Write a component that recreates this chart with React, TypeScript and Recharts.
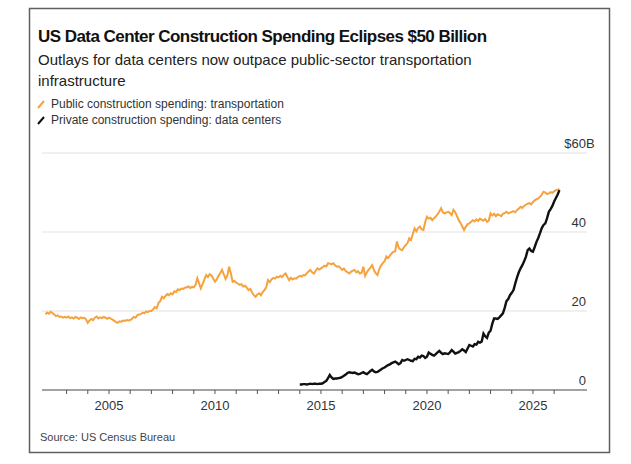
import React from 'react';
import { LineChart, Line, XAxis, YAxis, CartesianGrid, Legend } from 'recharts';

// Monthly construction spending, $B (seasonally adjusted annual rate)
const transportStartYear = 2002;
const dataCenterStartYear = 2014;

const transportation: number[] = [
  19.2, 19.6, 19.3, 19.8, 19.5, 19.1, 18.7, 18.9, 18.5, 18.6, 18.3, 18.5, // 2002
  18.3, 18.6, 18.2, 18.4, 18.1, 18.5, 18.3, 18.0, 18.4, 18.2, 18.3, 17.9, // 2003
  17.0, 17.6, 18.0, 17.7, 18.3, 18.6, 18.1, 18.4, 18.2, 18.5, 18.3, 18.0, // 2004
  18.3, 18.1, 17.8, 17.5, 17.2, 17.0, 17.4, 17.3, 17.6, 17.5, 17.7, 17.6, // 2005
  17.7, 18.0, 18.5, 18.3, 18.9, 19.1, 19.2, 19.6, 19.4, 19.9, 19.7, 20.0, // 2006
  20.0, 20.4, 21.0, 20.7, 22.0, 22.5, 23.6, 23.2, 23.8, 24.3, 24.0, 24.5, // 2007
  24.2, 25.0, 24.8, 25.5, 25.3, 25.7, 25.6, 25.9, 26.0, 26.2, 25.8, 26.1, // 2008
  26.0, 26.6, 28.3, 27.0, 25.7, 26.8, 28.0, 29.1, 28.6, 29.3, 29.0, 28.2, // 2009
  27.4, 28.0, 28.9, 29.6, 30.4, 29.3, 28.1, 29.0, 31.2, 29.5, 27.4, 27.6, // 2010
  27.2, 26.9, 26.6, 26.8, 26.2, 26.4, 25.9, 25.3, 25.6, 24.7, 24.0, 23.6, // 2011
  24.2, 24.5, 24.0, 24.8, 25.3, 26.0, 27.8, 27.3, 28.0, 28.4, 28.2, 28.7, // 2012
  28.5, 28.9, 28.6, 29.2, 29.5, 28.6, 27.8, 28.4, 28.0, 28.3, 28.2, 28.6, // 2013
  28.9, 28.7, 29.1, 29.0, 29.6, 30.0, 30.4, 29.8, 29.5, 30.2, 30.8, 30.5, // 2014
  30.8, 31.1, 31.5, 31.3, 32.1, 32.0, 31.8, 32.1, 31.6, 31.2, 31.3, 30.9, // 2015
  30.4, 30.7, 30.1, 29.8, 29.5, 29.9, 30.2, 30.4, 29.8, 30.1, 29.5, 29.7, // 2016
  31.2, 28.9, 29.8, 30.5, 31.0, 31.6, 30.3, 29.6, 29.1, 30.6, 31.5, 32.1, // 2017
  32.6, 33.8, 33.4, 34.0, 34.6, 35.0, 35.1, 37.6, 36.0, 35.6, 35.4, 36.2, // 2018
  36.7, 37.2, 38.4, 38.0, 39.5, 40.9, 40.2, 41.0, 41.4, 40.7, 40.5, 42.5, // 2019
  43.9, 43.4, 43.6, 43.0, 43.5, 43.9, 44.5, 45.2, 46.0, 45.0, 44.7, 44.9, // 2020
  45.1, 44.8, 44.3, 45.6, 45.0, 44.0, 43.0, 42.3, 41.4, 40.5, 41.3, 42.0, // 2021
  42.2, 42.6, 43.0, 42.7, 43.2, 42.8, 43.4, 43.1, 42.9, 43.3, 42.6, 42.9, // 2022
  44.7, 44.2, 44.6, 44.0, 44.5, 44.3, 44.0, 44.6, 44.8, 45.1, 44.7, 44.9, // 2023
  45.1, 45.3, 45.0, 45.6, 45.9, 46.4, 46.1, 46.6, 46.9, 47.2, 47.3, 47.0, // 2024
  47.6, 48.0, 48.3, 48.5, 48.9, 49.5, 50.2, 50.0, 49.6, 49.8, 50.1, 49.9, // 2025
  50.3, 50.6, 50.7, 50.9, // 2026
];

const dataCenters: number[] = [
  1.4, 1.4, 1.5, 1.5, 1.4, 1.5, 1.6, 1.5, 1.6, 1.6, 1.5, 1.6, // 2014
  1.6, 1.7, 2.0, 2.3, 3.0, 3.8, 3.2, 2.8, 2.9, 2.9, 3.0, 3.1, // 2015
  3.3, 3.6, 3.9, 4.3, 4.5, 4.4, 4.3, 4.4, 4.2, 4.0, 4.1, 4.3, // 2016
  4.5, 4.2, 4.0, 4.4, 4.8, 5.1, 4.7, 4.5, 4.6, 4.9, 5.2, 5.5, // 2017
  5.7, 6.0, 6.3, 6.5, 6.8, 7.0, 7.2, 6.9, 6.5, 6.8, 7.6, 7.4, // 2018
  7.6, 7.8, 7.6, 7.4, 7.3, 7.9, 7.8, 8.4, 8.2, 8.7, 8.6, 8.1, // 2019
  8.4, 9.5, 9.2, 8.9, 8.7, 9.1, 9.5, 9.9, 9.4, 9.1, 9.3, 9.2, // 2020
  9.1, 9.5, 10.1, 9.7, 9.2, 9.4, 9.6, 9.9, 10.3, 10.0, 9.6, 10.5, // 2021
  11.4, 11.2, 11.0, 11.6, 11.5, 12.2, 12.0, 12.3, 14.3, 13.6, 13.2, 14.5, // 2022
  15.0, 16.8, 18.1, 18.1, 18.0, 18.4, 18.9, 19.4, 20.8, 22.5, 23.0, 24.0, // 2023
  24.6, 25.3, 27.0, 28.5, 29.8, 30.8, 31.6, 32.6, 33.7, 35.4, 35.8, 35.2, // 2024
  35.0, 36.2, 37.5, 38.5, 39.7, 41.0, 41.8, 42.2, 43.5, 45.1, 45.8, 46.6, // 2025
  47.7, 48.6, 49.5, 50.6, // 2026
];

const seriesNames = [
  'Public construction spending: transportation',
  'Private construction spending: data centers',
];
const yTicks = [0, 20, 40, 60];
const yearTicks = [
  2003, 2004, 2005, 2006, 2007, 2008, 2009, 2010, 2011, 2012, 2013, 2014,
  2015, 2016, 2017, 2018, 2019, 2020, 2021, 2022, 2023, 2024, 2025, 2026,
];
const labelledYears = [2005, 2010, 2015, 2020, 2025];

const ORANGE = '#f5a23f';
const BLACK = '#111111';
const FONT = '"Liberation Sans", Arial, Helvetica, sans-serif';

const dcOffset = (dataCenterStartYear - transportStartYear) * 12;
const chartData = transportation.map((v, i) => ({
  t: transportStartYear + i / 12,
  transport: v,
  dc: i >= dcOffset ? dataCenters[i - dcOffset] : undefined,
}));

const YearTick = (props: any) => {
  const { x, y, payload } = props;
  if (!labelledYears.includes(payload.value)) return null;
  return (
    <text x={x} y={y + 14} textAnchor="middle" fontSize={13} fill="#333" fontFamily={FONT}>
      {payload.value}
    </text>
  );
};

const ValueTick = (props: any) => {
  const { x, y, payload } = props;
  const top = payload.value === 60;
  return (
    <text x={top ? x + 8.7 : x} y={y - 5} textAnchor="end" fontSize={13} fill="#333" fontFamily={FONT}>
      {top ? `$${payload.value}B` : payload.value}
    </text>
  );
};

// keep legend rows in series order (transportation first)
const LegendContent = (props: any) => {
  const items = [...(props.payload || [])].sort(
    (a: any, b: any) => seriesNames.indexOf(a.value) - seriesNames.indexOf(b.value)
  );
  return (
    <div style={{ fontFamily: FONT, fontSize: 12, color: '#333' }}>
      {items.map((entry: any) => (
        <div key={entry.value} style={{ display: 'flex', alignItems: 'center', height: 16 }}>
          <svg width={15} height={10}>
            <line x1={2} y1={9} x2={8} y2={2} stroke={entry.color} strokeWidth={2} />
          </svg>
          <span>{entry.value}</span>
        </div>
      ))}
    </div>
  );
};

export default function App() {
  return (
    <div style={{ position: 'absolute', left: 0, top: 0, width: 631, height: 464, background: '#fff' }}>
      <LineChart
        width={631}
        height={464}
        data={chartData}
        margin={{ top: 153, right: 44, left: 42, bottom: 44 }}
      >
        <CartesianGrid horizontal vertical={false} stroke="#e2e2e2" strokeWidth={1.2} />
        <XAxis
          dataKey="t"
          type="number"
          domain={[2001.84, 2027.55]}
          ticks={yearTicks}
          interval={0}
          height={30}
          axisLine={{ stroke: '#555' }}
          tickLine={{ stroke: '#555' }}
          tickSize={4}
          tick={<YearTick />}
          allowDataOverflow
        />
        <YAxis
          orientation="right"
          mirror
          domain={[0, 60]}
          ticks={yTicks}
          axisLine={false}
          tickLine={false}
          tickSize={0}
          tickMargin={1}
          tick={<ValueTick />}
        />
        <Legend
          layout="vertical"
          align="center"
          verticalAlign="middle"
          wrapperStyle={{ left: 36, top: 96, width: 300 }}
          content={<LegendContent />}
        />
        <Line
          dataKey="transport"
          name={seriesNames[0]}
          type="linear"
          stroke={ORANGE}
          strokeWidth={2}
          dot={false}
          isAnimationActive={false}
        />
        <Line
          dataKey="dc"
          name={seriesNames[1]}
          type="linear"
          stroke={BLACK}
          strokeWidth={2.4}
          dot={false}
          isAnimationActive={false}
        />
      </LineChart>
      <svg
        width={631}
        height={464}
        style={{ position: 'absolute', left: 0, top: 0, pointerEvents: 'none' }}
        fontFamily={FONT}
      >
        <rect x={29.5} y={8.5} width={580} height={444} fill="none" stroke="#5f5f5f" strokeWidth={1.5} />
        <text x={38} y={42} fontSize={17} fontWeight="bold" fill="#111" letterSpacing={-0.55}>
          US Data Center Construction Spending Eclipses $50 Billion
        </text>
        <text x={38} y={65} fontSize={15} fill="#222">
          Outlays for data centers now outpace public-sector transportation
        </text>
        <text x={38} y={86} fontSize={15} fill="#222">
          infrastructure
        </text>
        <text x={40} y={441} fontSize={11} fill="#444">
          Source: US Census Bureau
        </text>
      </svg>
    </div>
  );
}
